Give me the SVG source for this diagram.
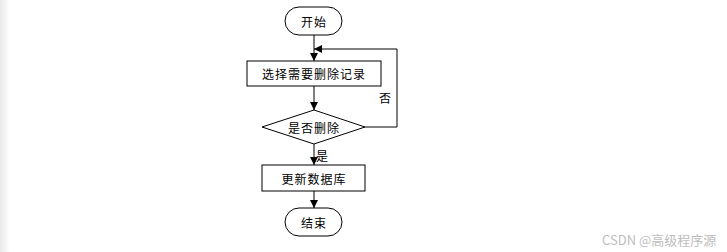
<svg xmlns="http://www.w3.org/2000/svg" width="727" height="252" viewBox="0 0 727 252">
<defs>
<linearGradient id="shade" x1="0" y1="0" x2="1" y2="0">
<stop offset="0" stop-color="#e9e9e9"/>
<stop offset="1" stop-color="#ffffff"/>
</linearGradient>
<marker id="arr" viewBox="0 0 10 10" refX="10" refY="5" markerWidth="8" markerHeight="8" markerUnits="userSpaceOnUse" orient="auto">
<path d="M0,0 L10,5 L0,10 Z" fill="#000"/>
</marker>
<style>
.shape{fill:#fff;stroke:#000;stroke-width:1}
.t{font-family:"Noto Sans CJK SC","Liberation Sans",sans-serif;font-size:12px;fill:#000;text-anchor:middle;dominant-baseline:central;letter-spacing:1px}
.c{fill:none;stroke:#000;stroke-width:1}
.lbl{font-family:"Noto Sans CJK SC","Liberation Sans",sans-serif;font-size:12px;fill:#000}
.wm{font-family:"Noto Sans CJK SC","Liberation Sans",sans-serif;font-size:13px;fill:#bdbdbd}
</style>
</defs>
<rect width="727" height="252" fill="#fff"/>
<rect width="10" height="252" fill="url(#shade)"/>
<g id="connectors">
<line class="c" x1="314" y1="35" x2="314" y2="61" marker-end="url(#arr)"/>
<line class="c" x1="314" y1="86" x2="314" y2="110" marker-end="url(#arr)"/>
<line class="c" x1="314" y1="144" x2="314" y2="165" marker-end="url(#arr)"/>
<line class="c" x1="314" y1="191" x2="314" y2="208" marker-end="url(#arr)"/>
<polyline class="c" points="365,127 397,127 397,49 314,49" marker-end="url(#arr)"/>
<text class="lbl" x="379" y="103">否</text>
<text class="lbl" x="316" y="161">是</text>
</g>
<g id="start">
<rect class="shape" x="285" y="7" width="57" height="28" rx="14" ry="14"/>
<text class="t" x="314" y="21">开始</text>
</g>
<g id="select">
<rect class="shape" x="247" y="61" width="134" height="25"/>
<text class="t" x="314" y="73.5">选择需要删除记录</text>
</g>
<g id="decide">
<polygon class="shape" points="314,110 365,127 314,144 262,127"/>
<text class="t" x="314" y="127">是否删除</text>
</g>
<g id="update">
<rect class="shape" x="262" y="165" width="103" height="26"/>
<text class="t" x="314" y="178">更新数据库</text>
</g>
<g id="end">
<rect class="shape" x="285" y="208" width="57" height="28" rx="14" ry="14"/>
<text class="t" x="314" y="222">结束</text>
</g>
<text class="wm" x="602" y="245">CSDN @高级程序源</text>
</svg>
